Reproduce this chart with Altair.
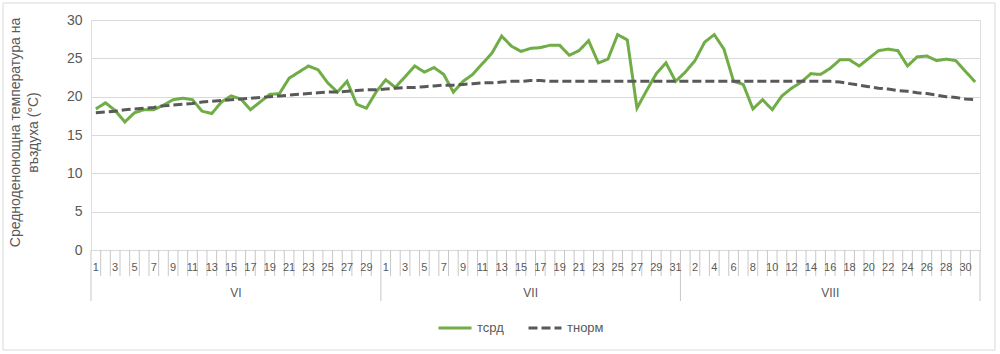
import altair as alt
import pandas as pd

# ---------------- data ----------------
months = ["VI", "VII", "VIII"]
month_days = [30, 31, 31]
series_names = ["тсрд", "тнорм"]
y_ticks = [0, 5, 10, 15, 20, 25, 30]

t_srd_vi = [18.4, 19.2, 18.2, 16.7, 17.9, 18.3, 18.3, 18.9, 19.6, 19.8,
            19.6, 18.1, 17.8, 19.3, 20.1, 19.7, 18.3, 19.3, 20.3, 20.4,
            22.4, 23.2, 24.0, 23.5, 21.8, 20.6, 22.0, 19.0, 18.5, 20.6]
t_srd_vii = [22.2, 21.2, 22.6, 24.0, 23.2, 23.8, 22.9, 20.6, 22.0, 22.9,
             24.3, 25.7, 27.9, 26.6, 25.9, 26.3, 26.4, 26.7, 26.7, 25.4,
             26.0, 27.3, 24.4, 24.9, 28.1, 27.4, 18.5, 20.8, 23.0, 24.4, 22.0]
t_srd_viii = [23.2, 24.7, 27.1, 28.1, 26.2, 22.0, 21.6, 18.4, 19.6, 18.3,
              20.1, 21.1, 21.9, 23.0, 22.9, 23.7, 24.8, 24.8, 24.0, 25.0,
              26.0, 26.2, 26.0, 24.0, 25.2, 25.3, 24.7, 24.9, 24.7, 23.3, 21.9]

t_norm_vi = [17.9, 18.0, 18.1, 18.3, 18.4, 18.5, 18.6, 18.8, 18.9, 19.0,
             19.1, 19.3, 19.4, 19.5, 19.6, 19.7, 19.8, 19.9, 20.0, 20.1,
             20.2, 20.3, 20.4, 20.5, 20.6, 20.6, 20.7, 20.8, 20.9, 20.9]
t_norm_vii = [21.0, 21.1, 21.2, 21.2, 21.3, 21.4, 21.5, 21.5, 21.6, 21.7,
              21.8, 21.8, 21.9, 22.0, 22.0, 22.1, 22.1, 22.0, 22.0, 22.0,
              22.0, 22.0, 22.0, 22.0, 22.0, 22.0, 22.0, 22.0, 22.0, 22.0, 22.0]
t_norm_viii = [22.0, 22.0, 22.0, 22.0, 22.0, 22.0, 22.0, 22.0, 22.0, 22.0,
               22.0, 22.0, 22.0, 22.0, 22.0, 22.0, 21.9, 21.7, 21.5, 21.3,
               21.1, 21.0, 20.8, 20.7, 20.5, 20.4, 20.2, 20.0, 19.9, 19.7, 19.6]

# ---------------- tables ----------------
srd_all = t_srd_vi + t_srd_vii + t_srd_viii
norm_all = t_norm_vi + t_norm_vii + t_norm_viii

day_rows = []
i = 0
for m, n in zip(months, month_days):
    for d in range(1, n + 1):
        day_rows.append({"idx": i, "pos": i + 0.5, "day": str(d), "month": m,
                         "show": i % 2 == 0})
        i += 1
days_df = pd.DataFrame(day_rows)
n_total = len(days_df)

line_rows = []
for r, s, nm in zip(day_rows, srd_all, norm_all):
    line_rows.append({"pos": r["pos"], "series": series_names[0], "value": s})
    line_rows.append({"pos": r["pos"], "series": series_names[1], "value": nm})
lines_df = pd.DataFrame(line_rows)

bounds = list(range(n_total + 1))
month_starts = [0]
for n in month_days:
    month_starts.append(month_starts[-1] + n)
tick_df = pd.DataFrame({"b": [b for b in bounds if b not in month_starts]})
sep_df = pd.DataFrame({"b": month_starts})
month_df = pd.DataFrame({
    "month": months,
    "mid": [s + n / 2 for s, n in zip(month_starts[:-1], month_days)],
})

FONT = "Liberation Sans"
GRID = "#d9d9d9"
TXT = "#595959"
W, H = 889, 230

xscale = alt.Scale(domain=[0, n_total], nice=False, zero=False)

legend = alt.Legend(orient="none", legendX=346, legendY=290, direction="horizontal",
                    title=None, symbolType="stroke", symbolSize=1089,
                    symbolStrokeWidth=3, labelFontSize=13, labelColor=TXT,
                    labelFont=FONT, labelOffset=4, columnPadding=18, padding=0)

lines = alt.Chart(lines_df).mark_line(strokeWidth=3).encode(
    x=alt.X("pos:Q", scale=xscale, axis=None),
    y=alt.Y("value:Q",
            scale=alt.Scale(domain=[0, 30], nice=False, zero=True),
            axis=alt.Axis(values=y_ticks, grid=True, gridColor=GRID, domain=False,
                          ticks=False, labelPadding=9, labelFontSize=14,
                          labelColor=TXT, labelFont=FONT,
                          title=["Средноденонощна температура на", "въздуха (°C)"],
                          titleFont=FONT, titleFontSize=14, titleFontWeight="normal",
                          titleColor=TXT, titleLineHeight=18, titleX=-83, titleY=112,
                          titleAlign="center", titleBaseline="top", titleAngle=270)),
    color=alt.Color("series:N",
                    scale=alt.Scale(domain=series_names, range=["#70AD47", "#595959"]),
                    legend=legend),
    strokeDash=alt.StrokeDash("series:N",
                              scale=alt.Scale(domain=series_names, range=[[1, 0], [9, 4]]),
                              legend=legend),
)

ticks = alt.Chart(tick_df).mark_rule(color="#c8c8c8", strokeWidth=1).encode(
    x=alt.X("b:Q", scale=xscale, axis=None),
    y=alt.value(H),
    y2=alt.value(H + 26),
)
seps = alt.Chart(sep_df).mark_rule(color="#c8c8c8", strokeWidth=1).encode(
    x=alt.X("b:Q", scale=xscale, axis=None),
    y=alt.value(H),
    y2=alt.value(H + 51),
)
day_labels = alt.Chart(days_df).transform_filter("datum.show").mark_text(
    font=FONT, fontSize=11, color=TXT, baseline="middle", align="center"
).encode(
    x=alt.X("pos:Q", scale=xscale, axis=None),
    y=alt.value(H + 18),
    text="day:N",
)
month_labels = alt.Chart(month_df).mark_text(
    font=FONT, fontSize=12, color=TXT, baseline="middle", align="center"
).encode(
    x=alt.X("mid:Q", scale=xscale, axis=None),
    y=alt.value(H + 43),
    text="month:N",
)
border = alt.Chart(pd.DataFrame({"k": [0]})).mark_rect(
    fillOpacity=0, stroke=GRID, strokeWidth=1
).encode(
    x=alt.value(-88), x2=alt.value(904), y=alt.value(-17), y2=alt.value(330)
)

chart = alt.layer(border, ticks, seps, day_labels, month_labels, lines).properties(
    width=W, height=H,
    padding={"left": 91, "top": 20, "right": 20, "bottom": 104},
    autosize=alt.AutoSizeParams(type="none"),
).configure_view(stroke=None).configure(font=FONT, background="white")

chart.save("out.html", embed_options={"renderer": "svg", "actions": False})
